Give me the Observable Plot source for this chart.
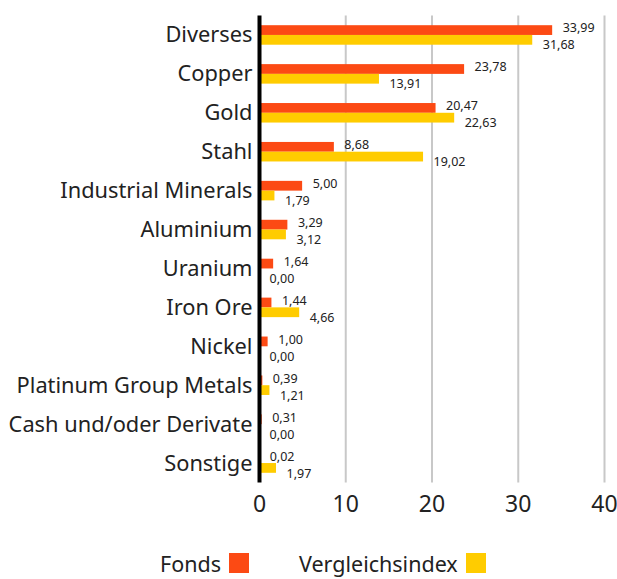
<!DOCTYPE html>
<html>
<head>
<meta charset="utf-8">
<script src="https://cdn.jsdelivr.net/npm/d3@7"></script>
<script src="https://cdn.jsdelivr.net/npm/@observablehq/plot@0.6"></script>
<style>
  html, body { margin: 0; padding: 0; background: #fff; }
  body { font-family: "Noto Sans", sans-serif; color: #222; width: 617px; }
  #chart svg { display: block; }
  #legend { position: relative; height: 49px; font-size: 21.5px; }
  .item { position: absolute; top: 20px; display: flex; align-items: center; height: 26px; }
  .sw { width: 20px; height: 20px; margin-left: 8px; }
</style>
</head>
<body>
<div id="chart"></div>
<div id="legend"></div>
<script>
const categories = ["Diverses","Copper","Gold","Stahl","Industrial Minerals","Aluminium","Uranium","Iron Ore","Nickel","Platinum Group Metals","Cash und/oder Derivate","Sonstige"];
const fondsValues = [33.99,23.78,20.47,8.68,5.00,3.29,1.64,1.44,1.00,0.39,0.31,0.02];
const indexValues = [31.68,13.91,22.63,19.02,1.79,3.12,0.00,4.66,0.00,1.21,0.00,1.97];
const seriesNames = ["Fonds","Vergleichsindex"];
const seriesColors = ["#FC4A14","#FFCC00"];
const xTicks = [0,10,20,30,40];

const fmt = v => v.toFixed(2).replace(".", ",");
const fonds = categories.map((c,i) => ({cat: c, value: fondsValues[i]}));
const index = categories.map((c,i) => ({cat: c, value: indexValues[i]}));

const H = 530;
const chart = Plot.plot({
  width: 617,
  height: H,
  marginLeft: 259,
  marginRight: 13,
  marginTop: 15.5,
  marginBottom: H - 482.5,
  style: {fontFamily: "Noto Sans, sans-serif", color: "#222", background: "#fff"},
  x: {domain: [0, 40]},
  y: {domain: categories, padding: 0, round: false},
  marks: [
    Plot.ruleX(xTicks.slice(1), {stroke: "#c8c8c8", strokeWidth: 2}),
    Plot.barX(fonds, {x: "value", y: "cat", fill: seriesColors[0], insetTop: 9.7, insetBottom: 19.45}),
    Plot.barX(index, {x: "value", y: "cat", fill: seriesColors[1], insetTop: 19.45, insetBottom: 9.7}),
    Plot.text(fonds, {x: "value", y: "cat", text: d => fmt(d.value), dx: 10, dy: -7, textAnchor: "start", fontSize: 12.5, fill: "#222"}),
    Plot.text(index, {x: "value", y: "cat", text: d => fmt(d.value), dx: 10, dy: 10, textAnchor: "start", fontSize: 12.5, fill: "#222"}),
    Plot.ruleX([0], {stroke: "#000", strokeWidth: 4}),
    Plot.axisX({ticks: xTicks, tickSize: 0, tickPadding: 13, fontSize: 23, label: null, tickFormat: d => String(d)}),
    Plot.axisY({tickSize: 0, tickPadding: 7, fontSize: 21.8, label: null})
  ]
});
document.getElementById("chart").appendChild(chart);

const legend = document.getElementById("legend");
const lefts = [160, 299];
seriesNames.forEach((n, i) => {
  const it = document.createElement("div");
  it.className = "item";
  it.style.left = lefts[i] + "px";
  const t = document.createElement("span");
  t.textContent = n;
  const s = document.createElement("span");
  s.className = "sw";
  s.style.background = seriesColors[i];
  it.appendChild(t); it.appendChild(s);
  legend.appendChild(it);
});
</script>
</body>
</html>
